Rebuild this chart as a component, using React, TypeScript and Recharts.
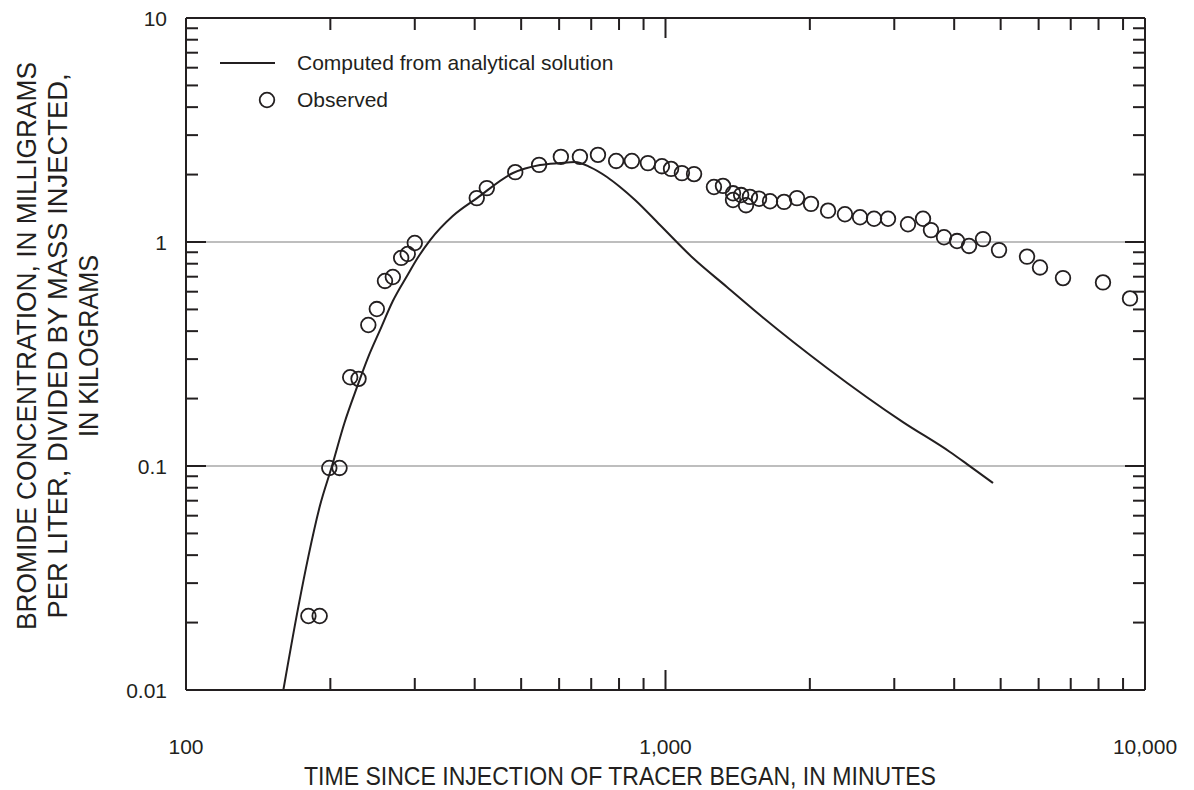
import {
  ComposedChart,
  Line,
  Scatter,
  XAxis,
  YAxis,
  ReferenceLine,
  Legend,
} from "recharts";

/* ---- data ---- */
const OBS_T = [
  180, 190, 199, 209, 220, 229, 240, 250, 260, 270, 281, 290, 300, 404, 424, 486, 545, 605, 663, 723,
  789, 851, 919, 983, 1027, 1082, 1147, 1262, 1318, 1383, 1383, 1438, 1472, 1500, 1567, 1652, 1767,
  1880, 2011, 2183, 2367, 2545, 2722, 2911, 3204, 3444, 3578, 3809, 4055, 4295, 4594, 4961, 5675,
  6040, 6745, 8173, 9305,
];
const OBS_C = [
  0.0214, 0.0214, 0.098, 0.098, 0.249, 0.245, 0.426, 0.502, 0.67, 0.698, 0.849, 0.884, 0.99, 1.57,
  1.74, 2.05, 2.21, 2.4, 2.4, 2.45, 2.3, 2.3, 2.25, 2.18, 2.12, 2.03, 2.01, 1.76, 1.78, 1.65, 1.54,
  1.62, 1.46, 1.59, 1.56, 1.52, 1.51, 1.57, 1.48, 1.38, 1.33, 1.29, 1.27, 1.27, 1.2, 1.27, 1.13,
  1.05, 1.01, 0.96, 1.03, 0.92, 0.86, 0.77, 0.69, 0.66, 0.56,
];

// analytical solution
const CURVE_T = [
  159.6, 171.5, 179.9, 190.3, 201.3, 214, 227.4, 240, 254, 270, 289, 305, 323, 360, 404.5, 480.8,
  547.5, 602.6, 647.7, 696, 755, 804, 864, 974, 1141, 1343, 1574, 2172, 3128, 3920, 4254, 4820,
];
const CURVE_C = [
  0.01, 0.0235, 0.0393, 0.0666, 0.099, 0.1556, 0.2254, 0.307, 0.405, 0.545, 0.705, 0.857, 1.02,
  1.306, 1.57, 2.032, 2.207, 2.252, 2.276, 2.16, 1.951, 1.76, 1.54, 1.191, 0.848, 0.63, 0.472, 0.274,
  0.157, 0.1155, 0.102, 0.084,
];

const X_TICKS = [100, 200, 300, 400, 500, 600, 700, 800, 900, 1000, 2000, 3000, 4000, 5000, 6000, 7000, 8000, 9000, 10000];
const X_MARKS = [200, 300, 400, 500, 600, 700, 800, 900, 1000, 2000, 3000, 4000, 5000, 6000, 7000, 8000, 9000];
const X_LABELS: Record<number, string> = { 100: "100", 1000: "1,000", 10000: "10,000" };
const Y_TICKS = [
  0.01, 0.02, 0.03, 0.04, 0.05, 0.06, 0.07, 0.08, 0.09, 0.1, 0.2, 0.3, 0.4, 0.5, 0.6, 0.7, 0.8, 0.9,
  1, 2, 3, 4, 5, 6, 7, 8, 9, 10,
];
const Y_LABELS: Record<number, string> = { 0.01: "0.01", 0.1: "0.1", 1: "1", 10: "10" };
const GRID_Y = [1, 0.1];
const Y_MIN = 0.01;
const Y_MAX = 10;

const observed = OBS_T.map((t, i) => ({ t, c: OBS_C[i] }));
const curve = CURVE_T.map((t, i) => ({ t, c: CURVE_C[i] }));
const bottomMarks = X_MARKS.map((t) => ({ t, c: Y_MIN }));
const topMarks = X_MARKS.map((t) => ({ t, c: Y_MAX }));

const INK = "#231f20";
const FONT = "'Liberation Sans', Arial, Helvetica, sans-serif";
const MINOR = 12;
const MAJOR = 20;

const isEdgeY = (v: number) => v === 0.01 || v === 10;

function BottomTick({ x, y, payload }: any) {
  const v = payload.value;
  if (!X_LABELS[v]) return <g />;
  return (
    <text x={x} y={y + 64} textAnchor="middle" fontSize={21} fill={INK} fontFamily={FONT}>
      {X_LABELS[v]}
    </text>
  );
}

// x tick marks drawn as filled slivers sitting on the bottom / top edges
function UpMark({ cx, cy, payload }: any) {
  const len = payload && payload.t === 1000 ? MAJOR : MINOR;
  return <rect x={cx - 1} y={cy - len} width={2} height={len} fill={INK} />;
}

function DownMark({ cx, cy, payload }: any) {
  const len = payload && payload.t === 1000 ? MAJOR : MINOR;
  return <rect x={cx - 1} y={cy} width={2} height={len} fill={INK} />;
}

function LeftTick({ x, y, payload }: any) {
  const v = payload.value;
  const len = v === 1 || v === 0.1 ? MAJOR : MINOR;
  return (
    <g>
      {!isEdgeY(v) && <line x1={x} y1={y} x2={x + len} y2={y} stroke={INK} strokeWidth={2} />}
      {Y_LABELS[v] && (
        <text x={x - 19} y={y + 7.5} textAnchor="end" fontSize={21} fill={INK} fontFamily={FONT}>
          {Y_LABELS[v]}
        </text>
      )}
    </g>
  );
}

function RightTick({ x, y, payload }: any) {
  const v = payload.value;
  const len = v === 1 || v === 0.1 ? MAJOR : MINOR;
  return <g>{!isEdgeY(v) && <line x1={x} y1={y} x2={x - len} y2={y} stroke={INK} strokeWidth={2} />}</g>;
}

function Ring({ cx, cy }: any) {
  return <circle cx={cx} cy={cy} r={7.3} fill="none" stroke={INK} strokeWidth={1.8} />;
}

function XTitle() {
  return (
    <text x={620} y={785} textAnchor="middle" fontSize={25} fill={INK} fontFamily={FONT} textLength={632} lengthAdjust="spacingAndGlyphs">
      TIME SINCE INJECTION OF TRACER BEGAN, IN MINUTES
    </text>
  );
}

function YTitle() {
  const lines = [
    "BROMIDE CONCENTRATION, IN MILLIGRAMS",
    "PER LITER, DIVIDED BY MASS INJECTED,",
    "IN KILOGRAMS",
  ];
  const lens = [568, 545, 182];
  const xs = [27, 58, 89];
  const cy = 346;
  return (
    <g>
      {lines.map((s, i) => (
        <text
          key={i}
          x={xs[i]}
          y={cy}
          transform={`rotate(-90 ${xs[i]} ${cy})`}
          textAnchor="middle"
          dominantBaseline="central"
          fontSize={27}
          fill={INK}
          fontFamily={FONT}
          textLength={lens[i]}
          lengthAdjust="spacingAndGlyphs"
        >
          {s}
        </text>
      ))}
    </g>
  );
}

function LegendBox() {
  return (
    <svg width={460} height={80} style={{ display: "block" }}>
      <line x1={10} y1={19} x2={65} y2={19} stroke={INK} strokeWidth={2} />
      <text x={87} y={26} fontSize={21} fill={INK} fontFamily={FONT}>
        Computed from analytical solution
      </text>
      <circle cx={57} cy={56} r={7.3} fill="none" stroke={INK} strokeWidth={1.8} />
      <text x={87} y={63} fontSize={21} fill={INK} fontFamily={FONT}>
        Observed
      </text>
    </svg>
  );
}

export default function App() {
  return (
    <div style={{ position: "absolute", left: 0, top: 0, background: "#fff", fontFamily: FONT }}>
      <ComposedChart width={1194} height={790} margin={{ top: 0, right: 0, bottom: 40, left: 126 }}>
        {GRID_Y.map((v) => (
          <ReferenceLine key={v} xAxisId="bottom" yAxisId="left" y={v} stroke="#a8a8a8" strokeWidth={1.6} />
        ))}
        <XAxis
          xAxisId="bottom"
          type="number"
          dataKey="t"
          scale="log"
          domain={[100, 10000]}
          ticks={X_TICKS}
          interval={0}
          tickSize={0}
          tickMargin={0}
          tickLine={false}
          tick={<BottomTick />}
          height={60}
          axisLine={{ stroke: INK, strokeWidth: 2 }}
          label={<XTitle />}
        />
        <XAxis
          xAxisId="top"
          orientation="top"
          type="number"
          dataKey="t"
          scale="log"
          domain={[100, 10000]}
          ticks={X_TICKS}
          interval={0}
          tick={false}
          tickLine={false}
          height={18}
          axisLine={{ stroke: INK, strokeWidth: 2 }}
        />
        <YAxis
          yAxisId="left"
          type="number"
          dataKey="c"
          scale="log"
          domain={[Y_MIN, Y_MAX]}
          ticks={Y_TICKS}
          interval={0}
          tickSize={0}
          tickMargin={0}
          tickLine={false}
          tick={<LeftTick />}
          width={60}
          axisLine={{ stroke: INK, strokeWidth: 2 }}
          label={<YTitle />}
        />
        <YAxis
          yAxisId="right"
          orientation="right"
          type="number"
          dataKey="c"
          scale="log"
          domain={[Y_MIN, Y_MAX]}
          ticks={Y_TICKS}
          interval={0}
          tickSize={0}
          tickMargin={0}
          tickLine={false}
          tick={<RightTick />}
          width={49}
          axisLine={{ stroke: INK, strokeWidth: 2 }}
        />
        <Scatter
          xAxisId="bottom"
          yAxisId="left"
          data={bottomMarks}
          dataKey="c"
          shape={<UpMark />}
          isAnimationActive={false}
        />
        <Scatter
          xAxisId="bottom"
          yAxisId="left"
          data={topMarks}
          dataKey="c"
          shape={<DownMark />}
          isAnimationActive={false}
        />
        <Line
          xAxisId="bottom"
          yAxisId="left"
          data={curve}
          dataKey="c"
          type="monotone"
          stroke={INK}
          strokeWidth={2}
          dot={false}
          isAnimationActive={false}
        />
        <Scatter
          xAxisId="top"
          yAxisId="right"
          data={observed}
          dataKey="c"
          shape={<Ring />}
          isAnimationActive={false}
        />
        <Legend
          layout="horizontal"
          verticalAlign="middle"
          align="center"
          content={() => <LegendBox />}
          wrapperStyle={{ left: 210, top: 44, width: 460, height: 80 }}
        />
      </ComposedChart>
    </div>
  );
}
